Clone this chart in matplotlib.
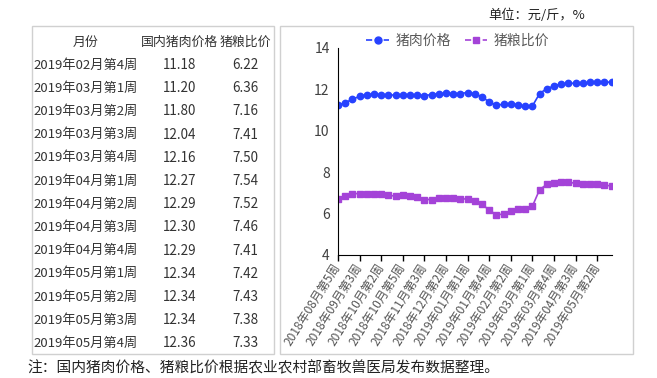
import matplotlib.pyplot as plt
from matplotlib.lines import Line2D
from matplotlib.patches import Rectangle

plt.rcParams['font.family'] = ['Noto Sans CJK SC', 'DejaVu Sans']

# weekly categories (x axis), last 13 also go into the table
weeks = [
    '2018年08月第5周', '2018年09月第1周', '2018年09月第2周', '2018年09月第3周',
    '2018年09月第4周', '2018年10月第1周', '2018年10月第2周', '2018年10月第3周',
    '2018年10月第4周', '2018年10月第5周', '2018年11月第1周', '2018年11月第2周',
    '2018年11月第3周', '2018年11月第4周', '2018年12月第1周', '2018年12月第2周',
    '2018年12月第3周', '2018年12月第4周', '2019年01月第1周', '2019年01月第2周',
    '2019年01月第3周', '2019年01月第4周', '2019年01月第5周', '2019年02月第1周',
    '2019年02月第2周', '2019年02月第3周', '2019年02月第4周', '2019年03月第1周',
    '2019年03月第2周', '2019年03月第3周', '2019年03月第4周', '2019年04月第1周',
    '2019年04月第2周', '2019年04月第3周', '2019年04月第4周', '2019年05月第1周',
    '2019年05月第2周', '2019年05月第3周', '2019年05月第4周',
]
pork_price = [
    11.24, 11.36, 11.52, 11.67, 11.75, 11.77, 11.75, 11.74, 11.72, 11.75,
    11.74, 11.72, 11.70, 11.75, 11.79, 11.82, 11.80, 11.80, 11.85, 11.79,
    11.64, 11.39, 11.23, 11.29, 11.31, 11.26, 11.18, 11.20, 11.80, 12.04,
    12.16, 12.27, 12.29, 12.30, 12.29, 12.34, 12.34, 12.34, 12.36,
]
hog_grain_ratio = [
    6.72, 6.86, 6.96, 6.97, 6.97, 6.97, 6.96, 6.89, 6.84, 6.89,
    6.84, 6.79, 6.68, 6.68, 6.77, 6.75, 6.73, 6.72, 6.70, 6.61,
    6.46, 6.16, 5.95, 5.97, 6.14, 6.20, 6.22, 6.36, 7.16, 7.41,
    7.50, 7.54, 7.52, 7.46, 7.41, 7.42, 7.43, 7.38, 7.33,
]
table_header = ['月份', '国内猪肉价格', '猪粮比价']
n_table = 13
y_ticks = [4, 6, 8, 10, 12, 14]
tick_step = 3

W, H = 657, 378
fig = plt.figure(figsize=(W / 100, H / 100), dpi=100)


def fx(px):
    return px / W


def fy(py):
    return 1 - py / H


# frames
fig.patches.append(Rectangle((fx(31.5), fy(354)), fx(274) - fx(31.5), fy(26) - fy(354),
                             transform=fig.transFigure, fill=False, ec='#d0d0d0', lw=1))
fig.patches.append(Rectangle((fx(280), fy(354)), fx(633) - fx(280), fy(26) - fy(354),
                             transform=fig.transFigure, fill=False, ec='#d0d0d0', lw=1))

# table
txt_col = '#333333'
col_x = [86, 180, 245]
fig.text(fx(col_x[0]), fy(42), table_header[0], ha='center', va='center', fontsize=9.3, color=txt_col)
fig.text(fx(col_x[1]), fy(42), table_header[1], ha='center', va='center', fontsize=9.3, color=txt_col)
fig.text(fx(col_x[2]), fy(42), table_header[2], ha='center', va='center', fontsize=9.3, color=txt_col)
rows = list(zip(weeks, pork_price, hog_grain_ratio))[-n_table:]
for i, (wk, p, r) in enumerate(rows):
    yy = fy(65 + i * 23.2)
    fig.text(fx(col_x[0]), yy, wk, ha='center', va='center', fontsize=9.5, color=txt_col)
    fig.text(fx(col_x[1]), yy, '%.2f' % p, ha='center', va='center', fontsize=9.7, color=txt_col)
    fig.text(fx(col_x[2]), yy, '%.2f' % r, ha='center', va='center', fontsize=9.7, color=txt_col)

# chart
ax = fig.add_axes([fx(338), fy(255), fx(612) - fx(338), fy(48) - fy(255)])
blue = '#2742ff'
purple = '#a443d8'
x = list(range(len(weeks)))
ax.plot(x, pork_price, color=blue, lw=1.2, marker='o', ms=4.6, label='猪肉价格')
ax.plot(x, hog_grain_ratio, color=purple, lw=1.2, marker='s', ms=4.2, label='猪粮比价')

ax.set_xlim(0, len(weeks) - 1 + 0.05)
ax.set_ylim(4, 14)
ax.set_yticks(y_ticks)
ax.tick_params(axis='y', length=0, pad=6, labelsize=10, labelcolor='#404040')
ax.set_xticks(x[::tick_step])
ax.set_xticklabels(weeks[::tick_step], rotation=58, ha='right', va='center',
                   rotation_mode='anchor', fontsize=8.6, color='#555555')
ax.tick_params(axis='x', length=4, width=1, direction='out', pad=3)
for s in ['top', 'right']:
    ax.spines[s].set_visible(False)
ax.spines['left'].set_color('black')
ax.spines['bottom'].set_color('black')
ax.set_facecolor('none')

handles = [
    Line2D([0], [0], color=blue, lw=1.2, ls='--', marker='o', ms=5),
    Line2D([0], [0], color=purple, lw=1.2, ls='--', marker='s', ms=4.5),
]
fig.legend(handles, ['猪肉价格', '猪粮比价'], loc='center', bbox_to_anchor=(fx(458), fy(41)),
           ncol=2, frameon=False, fontsize=10, handlelength=1.6, handletextpad=0.5,
           columnspacing=1.0, labelcolor='#595959')

# annotations
fig.text(fx(488), fy(15), '单位：元/斤，%', ha='left', va='center', fontsize=9.5, color='#222222')
fig.text(fx(27), fy(368), '注：国内猪肉价格、猪粮比价根据农业农村部畜牧兽医局发布数据整理。',
         ha='left', va='center', fontsize=10.6, color='#222222')

fig.savefig('out.png', dpi=100)
